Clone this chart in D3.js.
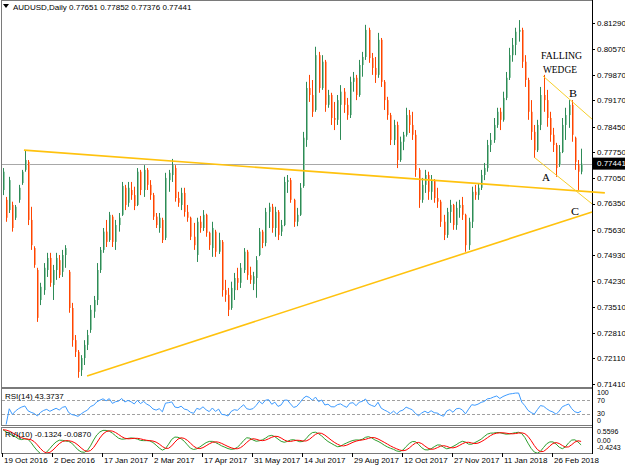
<!DOCTYPE html>
<html lang="en">
<head>
<meta charset="UTF-8">
<title>AUDUSD, Daily</title>
<script src="https://cdn.jsdelivr.net/npm/d3@7.8.4/dist/d3.min.js"></script>
<style>
  body { margin: 0; background: #fff; }
  svg { display: block; font-family: "Liberation Sans", Arial, sans-serif; }
  .lbl { font-size: 8px; fill: #000; }
  .sm { font-size: 7px; fill: #000; }
  .note { font-family: "Liberation Serif", "Times New Roman", serif; font-size: 11px; fill: #000; }
</style>
</head>
<body>
<svg id="chart" width="625" height="469"></svg>
<script>
const symbolTitle = "AUDUSD,Daily";
const lastQuote = ["0.77651", "0.77852", "0.77376", "0.77441"];
const lastPrice = 0.77441;
const rsiTitle = "RSI(14) 43.3737";
const rviTitle = "RVI(10) -0.1324 -0.0870";

// one bar = 2 trading days, prices in pips: [open, high, low, close]
const bars = [
  [7672,7732,7658,7722],[7645,7653,7585,7596],[7617,7708,7609,7699],[7631,7640,7558,7568],
  [7596,7631,7590,7626],[7645,7686,7637,7678],[7691,7727,7686,7722],[7727,7781,7722,7754],
  [7749,7754,7576,7590],[7590,7626,7508,7521],[7513,7518,7459,7467],[7453,7459,7311,7322],
  [7371,7418,7357,7407],[7398,7472,7385,7459],[7453,7500,7434,7486],[7486,7500,7407,7418],
  [7412,7467,7371,7453],[7453,7500,7426,7486],[7480,7494,7431,7439],[7448,7508,7434,7494],
  [7494,7521,7459,7513],[7448,7453,7336,7349],[7349,7363,7243,7261],[7261,7275,7215,7229],
  [7229,7234,7158,7174],[7179,7220,7163,7212],[7212,7261,7193,7248],[7248,7289,7234,7275],
  [7289,7357,7281,7344],[7339,7382,7322,7371],[7371,7472,7357,7453],[7453,7516,7445,7508],
  [7508,7568,7500,7558],[7558,7590,7516,7530],[7535,7612,7530,7604],[7599,7604,7516,7530],
  [7530,7590,7508,7576],[7576,7609,7558,7596],[7604,7694,7601,7683],[7678,7686,7617,7631],
  [7637,7694,7626,7678],[7672,7694,7645,7658],[7658,7681,7617,7628],[7631,7732,7628,7722],
  [7722,7727,7658,7672],[7672,7740,7653,7727],[7727,7732,7672,7686],[7686,7699,7645,7658],
  [7658,7664,7590,7599],[7599,7609,7568,7576],[7568,7609,7555,7596],[7590,7596,7527,7535],
  [7541,7719,7535,7705],[7699,7727,7667,7719],[7713,7757,7694,7740],[7732,7740,7640,7650],
  [7650,7667,7626,7637],[7631,7678,7617,7664],[7664,7678,7599,7612],[7612,7631,7585,7596],
  [7596,7599,7535,7544],[7544,7582,7508,7521],[7494,7596,7475,7585],[7585,7601,7555,7568],
  [7568,7617,7560,7604],[7604,7607,7544,7555],[7555,7558,7508,7521],[7513,7585,7489,7568],
  [7558,7563,7489,7503],[7503,7555,7497,7535],[7530,7535,7380,7398],[7398,7426,7366,7385],
  [7385,7404,7327,7344],[7349,7421,7344,7404],[7398,7445,7371,7431],[7431,7459,7398,7418],
  [7418,7472,7404,7459],[7453,7513,7445,7503],[7503,7508,7426,7439],[7439,7462,7415,7426],
  [7415,7448,7398,7436],[7431,7491,7377,7480],[7494,7568,7491,7558],[7558,7563,7513,7527],
  [7527,7623,7518,7612],[7612,7637,7568,7626],[7626,7634,7555,7568],[7568,7626,7544,7612],
  [7612,7617,7535,7549],[7558,7590,7546,7576],[7576,7708,7573,7694],[7694,7713,7664,7699],
  [7699,7705,7637,7645],[7645,7648,7571,7585],[7585,7623,7573,7604],[7604,7691,7601,7678],
  [7683,7831,7678,7815],[7809,7968,7790,7951],[7951,7987,7913,7932],[7932,7973,7872,7886],
  [7891,8064,7886,8041],[8041,8050,7938,7951],[7951,8041,7946,8023],[8023,8028,7886,7905],
  [7905,7946,7897,7932],[7932,7938,7850,7869],[7869,7913,7836,7864],[7864,7932,7850,7918],
  [7905,7959,7809,7941],[7941,7951,7883,7905],[7905,7924,7864,7877],[7877,7982,7869,7968],
  [7968,7995,7941,7979],[7979,7987,7918,7932],[7932,8028,7927,8014],[8014,8050,7982,8036],
  [8036,8124,8028,8110],[8110,8116,8020,8033],[8033,8047,7987,8006],[8006,8036,7965,7987],
  [7987,8102,7979,8083],[8083,8088,7954,7968],[7968,7973,7891,7918],[7918,7927,7864,7877],
  [7877,7883,7795,7809],[7809,7864,7795,7850],[7850,7859,7732,7754],[7754,7818,7749,7804],
  [7804,7831,7781,7823],[7823,7897,7818,7877],[7877,7891,7828,7850],[7850,7886,7809,7823],
  [7823,7836,7708,7727],[7727,7732,7623,7645],[7645,7705,7637,7686],[7686,7727,7664,7713],
  [7713,7722,7645,7667],[7667,7713,7645,7699],[7699,7702,7637,7650],[7650,7678,7623,7640],
  [7640,7645,7571,7585],[7585,7604,7535,7549],[7549,7623,7541,7612],[7612,7645,7582,7631],
  [7631,7634,7563,7576],[7576,7640,7563,7623],[7623,7645,7596,7631],[7631,7653,7590,7604],
  [7604,7607,7503,7521],[7521,7596,7508,7585],[7585,7681,7568,7667],[7667,7686,7645,7658],
  [7658,7691,7645,7678],[7678,7727,7672,7713],[7713,7746,7699,7732],[7732,7809,7722,7795],
  [7795,7828,7776,7809],[7809,7869,7801,7850],[7850,7897,7842,7886],[7886,7897,7836,7864],
  [7864,7941,7859,7924],[7924,7995,7918,7979],[7979,8061,7973,8041],[8041,8088,8023,8069],
  [8069,8116,8041,8105],[8105,8137,8078,8110],[8110,8116,8006,8023],[8023,8041,7954,7973],
  [7973,7979,7864,7886],[7886,7918,7809,7831],[7831,7850,7760,7781],[7781,7864,7776,7850],
  [7850,7954,7836,7932],[7932,7987,7886,7918],[7918,7946,7845,7869],[7869,7886,7804,7823],
  [7823,7842,7776,7795],[7795,7801,7708,7732],[7740,7795,7735,7776],[7776,7869,7773,7850],
  [7850,7897,7809,7877],[7877,7918,7842,7905],[7905,7918,7804,7823],[7815,7818,7727,7749],
  [7740,7754,7672,7722],[7722,7785,7715,7744]
];

const priceTicks = [0.81290, 0.80570, 0.79870, 0.79170, 0.78450, 0.77750, 0.77050, 0.76350,
                    0.75630, 0.74930, 0.74230, 0.73510, 0.72810, 0.72110, 0.71410];
const dateLabels = ["19 Oct 2016", "2 Dec 2016", "17 Jan 2017", "2 Mar 2017", "17 Apr 2017", "31 May 2017",
                    "14 Jul 2017", "29 Aug 2017", "12 Oct 2017", "27 Nov 2017", "11 Jan 2018", "26 Feb 2018"];
const dateBars = [0, 16, 32, 48, 64, 80, 96, 112, 128, 144, 160, 176];
const rsiTicks = [100, 70, 30, 0];
const rsiLevels = [70, 30];
const rviTicks = [0.5596, 0, -0.4243];
const rviTickText = ["0.5596", "0.00", "-0.4243"];

// hand drawn lines, [bar, pips] at each end
const trendLines = [
  { from: [6.7, 7781], to: [192.6, 7664], width: 1.6 },
  { from: [26.9, 7163], to: [188.5, 7612], width: 1.6 },
  { from: [172.8, 7984], to: [188.5, 7866], width: 1 },
  { from: [170.2, 7760], to: [188.5, 7634], width: 1 }
];
const notes = [
  { text: "FALLING", bar: 172.2, price: 8030, len: 41 },
  { text: "WEDGE", bar: 172.8, price: 7993, len: 34 },
  { text: "B", bar: 181.1, price: 7927, len: 8 },
  { text: "A", bar: 172.5, price: 7697, len: 8 },
  { text: "C", bar: 181.8, price: 7604, len: 8 }
];

const svg = d3.select("#chart");
const left = 2, right = 592;
const mainP = { top: 1, bottom: 387 };
const rsiP = { top: 389, bottom: 425 };
const rviP = { top: 428, bottom: 453 };

const x = d3.scaleLinear().domain([0, bars.length - 1]).range([3, 581.1]);
const y = d3.scaleLinear().domain([0.71410, 0.81290]).range([384, 23]);
const yP = v => y(v / 10000);
const yRsi = d3.scaleLinear().domain([0, 100]).range([rsiP.bottom - 0.5, rsiP.top + 0.5]);
const yRvi = d3.scaleLinear().domain([-0.4243, 0.5596]).range([451, 432]);

const defs = svg.append("defs");
[["clipMain", mainP], ["clipRsi", rsiP], ["clipRvi", rviP]].forEach(([id, p]) => {
  defs.append("clipPath").attr("id", id).append("rect")
    .attr("x", left).attr("y", p.top).attr("width", right - left).attr("height", p.bottom - p.top);
});

// panel frames
[mainP, rsiP, rviP].forEach(p => {
  svg.append("rect").attr("x", left - 0.5).attr("y", p.top - 0.5)
    .attr("width", right - left + 1).attr("height", p.bottom - p.top + 1)
    .attr("fill", "none").attr("stroke", "#7a7a7a");
});
svg.append("line").attr("x1", right + 0.5).attr("x2", right + 0.5).attr("y1", 0).attr("y2", rviP.bottom + 1)
  .attr("stroke", "#000");

// header
svg.append("path").attr("d", "M3,4H9L6,8Z").attr("fill", "#000");
svg.append("text").attr("class", "lbl").attr("x", 13).attr("y", 10)
  .text(symbolTitle + "  " + lastQuote.join(" "));

// price line
svg.append("line").attr("x1", left).attr("x2", right).attr("y1", Math.round(y(lastPrice)) + 0.5)
  .attr("y2", Math.round(y(lastPrice)) + 0.5).attr("stroke", "#a8a8a8");

// candles
const upDark = "#2e8b57", upLight = "#93c9a8", dnDark = "#ff4500", dnLight = "#ffa27e";
const gBars = svg.append("g").attr("clip-path", "url(#clipMain)");
const bar = gBars.selectAll("g").data(bars).join("g")
  .attr("transform", (d, i) => `translate(${Math.round(x(i))},0)`);
bar.append("rect")
  .attr("x", 1).attr("width", 1)
  .attr("y", d => yP(Math.max(d[0], d[3])))
  .attr("height", d => Math.max(1, yP(Math.min(d[0], d[3])) - yP(Math.max(d[0], d[3]))))
  .attr("fill", d => d[3] >= d[0] ? upLight : dnLight);
bar.append("rect")
  .attr("x", 0).attr("width", 1)
  .attr("y", d => yP(d[1]))
  .attr("height", d => Math.max(1, yP(d[2]) - yP(d[1])))
  .attr("fill", d => d[3] >= d[0] ? upDark : dnDark);

// trend lines
svg.append("g").selectAll("line").data(trendLines).join("line")
  .attr("x1", d => x(d.from[0])).attr("y1", d => yP(d.from[1]))
  .attr("x2", d => x(d.to[0])).attr("y2", d => yP(d.to[1]))
  .attr("stroke", d => d.width > 1 ? "#ffc20e" : "#f7cf2a")
  .attr("stroke-width", d => d.width);

svg.append("g").selectAll("text").data(notes).join("text")
  .attr("class", "note")
  .attr("x", d => x(d.bar)).attr("y", d => yP(d.price))
  .attr("textLength", d => d.len).attr("lengthAdjust", "spacingAndGlyphs")
  .text(d => d.text);

// price axis
const gAx = svg.append("g");
gAx.selectAll("line").data(priceTicks).join("line")
  .attr("x1", right).attr("x2", right + 3)
  .attr("y1", d => Math.round(y(d)) + 0.5).attr("y2", d => Math.round(y(d)) + 0.5)
  .attr("stroke", "#000");
gAx.selectAll("text").data(priceTicks).join("text")
  .attr("class", "lbl").attr("x", right + 5).attr("y", d => y(d)).attr("dy", "0.35em")
  .text(d => d.toFixed(5));
svg.append("rect").attr("x", right + 1).attr("y", y(lastPrice) - 6).attr("width", 33).attr("height", 12)
  .attr("fill", "#000");
svg.append("text").attr("class", "lbl").attr("x", right + 5).attr("y", y(lastPrice)).attr("dy", "0.35em")
  .style("fill", "#fff").text(lastPrice.toFixed(5));

// RSI, computed from the closes (7 two-day bars ~ 14 days)
const closes = bars.map(d => d[3]);
const rsi = [null];
let ag = 0, al = 0;
for (let i = 1; i < closes.length; i++) {
  const ch = closes[i] - closes[i - 1];
  const k = Math.min(i, 7);
  ag = (ag * (k - 1) + Math.max(ch, 0)) / k;
  al = (al * (k - 1) + Math.max(-ch, 0)) / k;
  rsi.push(al === 0 ? 100 : 100 - 100 / (1 + ag / al));
}

svg.append("g").selectAll("line").data(rsiLevels).join("line")
  .attr("x1", left).attr("x2", right)
  .attr("y1", d => Math.round(yRsi(d)) + 0.5).attr("y2", d => Math.round(yRsi(d)) + 0.5)
  .attr("stroke", "#a0a0a0").attr("stroke-dasharray", "3,2");
svg.append("path").datum(rsi).attr("clip-path", "url(#clipRsi)")
  .attr("fill", "none").attr("stroke", "#3d9bff").attr("stroke-width", 1)
  .attr("d", d3.line().defined(d => d != null).x((d, i) => x(i)).y(d => yRsi(d)));
svg.append("text").attr("class", "lbl").attr("x", 5).attr("y", rsiP.top + 10).text(rsiTitle);
// small labels on the right are nudged so they stay inside their panel
const rsiLabelY = [393, 401, 414, 421];
svg.append("g").selectAll("text").data(rsiTicks).join("text")
  .attr("class", "sm").attr("x", right + 5).attr("y", (d, i) => rsiLabelY[i]).attr("dy", "0.35em")
  .text(d => d);

// RVI, computed from the bars (5 two-day bars ~ 10 days)
const at = (arr, i) => arr[Math.max(0, i)];
const co = bars.map(d => d[3] - d[0]);
const hl = bars.map(d => d[1] - d[2]);
const sw = (arr, i) => (at(arr, i) + 2 * at(arr, i - 1) + 2 * at(arr, i - 2) + at(arr, i - 3)) / 6;
const v1 = bars.map((d, i) => sw(co, i));
const v2 = bars.map((d, i) => sw(hl, i));
const rvi = bars.map((d, i) => {
  let n = 0, m = 0;
  for (let j = Math.max(0, i - 4); j <= i; j++) { n += v1[j]; m += v2[j]; }
  return m ? n / m : 0;
});
const sig = rvi.map((d, i) => sw(rvi, i));

const rviLine = d3.line().x((d, i) => x(i)).y(d => yRvi(d));
const gRvi = svg.append("g").attr("clip-path", "url(#clipRvi)");
gRvi.append("path").datum(rvi).attr("fill", "none").attr("stroke", "#2f9e2f").attr("d", rviLine);
gRvi.append("path").datum(sig).attr("fill", "none").attr("stroke", "#ff0000").attr("d", rviLine);
svg.append("text").attr("class", "lbl").attr("x", 5).attr("y", rviP.top + 9).text(rviTitle);
const rviLabelY = [432, 441, 448];
svg.append("g").selectAll("text").data(rviTicks).join("text")
  .attr("class", "sm").attr("x", right + 5).attr("y", (d, i) => rviLabelY[i]).attr("dy", "0.35em")
  .text((d, i) => rviTickText[i]);

// date axis
const gDate = svg.append("g");
gDate.selectAll("line").data(dateBars).join("line")
  .attr("x1", d => Math.round(x(d)) - 0.5).attr("x2", d => Math.round(x(d)) - 0.5)
  .attr("y1", rviP.bottom).attr("y2", rviP.bottom + 4).attr("stroke", "#000");
gDate.selectAll("text").data(dateBars).join("text")
  .attr("class", "lbl").attr("x", d => Math.round(x(d)) + 1).attr("y", 463)
  .text((d, i) => dateLabels[i]);
</script>
</body>
</html>
